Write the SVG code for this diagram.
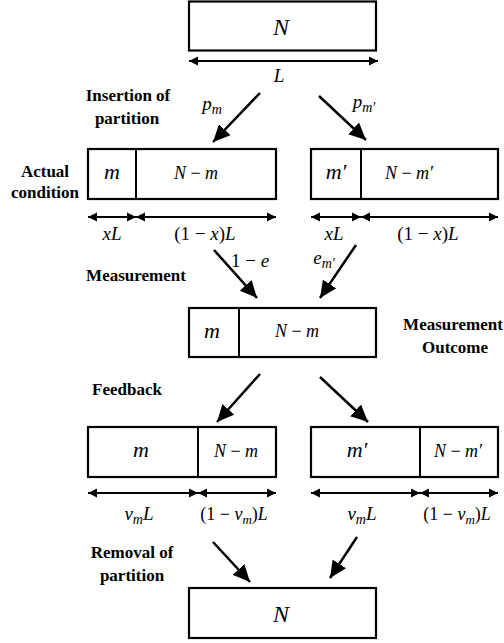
<svg xmlns="http://www.w3.org/2000/svg" width="504" height="643" viewBox="0 0 504 643">
<style>
.box{fill:#fff;stroke:#000;stroke-width:2.2}
.div{stroke:#000;stroke-width:2}
.dim{stroke:#000;stroke-width:2;marker-start:url(#sa);marker-end:url(#sa)}
.arr{stroke:#000;stroke-width:2.5;marker-end:url(#ba)}
text{font-family:'Liberation Serif','Times New Roman','DejaVu Serif',serif}
.lbl{font-weight:bold;font-size:17px;text-anchor:middle}
.mth{font-style:italic;font-size:19px;text-anchor:middle}
.big{font-size:24px}
.cell{font-size:22px}
.sm{font-size:18px}
.up{font-style:normal}
</style>
<defs>
<marker id="sa" markerUnits="userSpaceOnUse" markerWidth="10" markerHeight="10" viewBox="0 0 10 10" refX="9" refY="5" orient="auto-start-reverse"><path d="M0,0.5 L9,5 L0,9.5 z" fill="#000"/></marker>
<marker id="ba" markerUnits="userSpaceOnUse" markerWidth="18" markerHeight="16" viewBox="0 0 18 16" refX="17" refY="8" orient="auto"><path d="M0,0 L17,8 L0,16 z" fill="#000"/></marker>
</defs>

<g id="labels" font-family="Liberation Serif, serif">
<text class="lbl" x="128" y="101">Insertion of</text>
<text class="lbl" x="127" y="124">partition</text>
<text class="lbl" x="45" y="177">Actual</text>
<text class="lbl" x="45" y="198">condition</text>
<text class="lbl" x="136" y="281">Measurement</text>
<text class="lbl" x="453" y="330">Measurement</text>
<text class="lbl" x="455" y="353">Outcome</text>
<text class="lbl" x="127" y="395">Feedback</text>
<text class="lbl" x="132" y="558">Removal of</text>
<text class="lbl" x="132" y="581">partition</text>
</g>

<g id="n-top">
<rect class="box" x="189" y="1.5" width="187" height="49"/>
<text class="mth big" x="281" y="35">N</text>
<line class="dim" x1="189" y1="61" x2="378" y2="61"/>
<text class="mth" x="279" y="82">L</text>
</g>

<g id="actual-m">
<rect class="box" x="88" y="149" width="188" height="50"/>
<line class="div" x1="136" y1="149" x2="136" y2="199"/>
<text class="mth cell" x="112" y="179">m</text>
<text class="mth sm" x="196" y="179">N <tspan class="up">−</tspan> m</text>
<line class="dim" x1="88" y1="217" x2="136" y2="217"/>
<line class="dim" x1="136" y1="217" x2="276" y2="217"/>
<text class="mth" x="112" y="240">xL</text>
<text class="mth" x="205" y="240"><tspan class="up">(1 − </tspan>x<tspan class="up">)</tspan>L</text>
</g>

<g id="actual-mprime">
<rect class="box" x="311" y="149" width="187" height="50"/>
<line class="div" x1="361" y1="149" x2="361" y2="199"/>
<text class="mth cell" x="336" y="179">m′</text>
<text class="mth sm" x="409" y="179">N <tspan class="up">−</tspan> m′</text>
<line class="dim" x1="311" y1="217" x2="361" y2="217"/>
<line class="dim" x1="361" y1="217" x2="498" y2="217"/>
<text class="mth" x="334" y="240">xL</text>
<text class="mth" x="428" y="240"><tspan class="up">(1 − </tspan>x<tspan class="up">)</tspan>L</text>
</g>

<g id="outcome">
<rect class="box" x="189" y="308" width="187" height="49"/>
<line class="div" x1="239" y1="308" x2="239" y2="357"/>
<text class="mth cell" x="212" y="338">m</text>
<text class="mth sm" x="297" y="337">N <tspan class="up">−</tspan> m</text>
</g>

<g id="feedback-m">
<rect class="box" x="88" y="427" width="188" height="50"/>
<line class="div" x1="198" y1="427" x2="198" y2="477"/>
<text class="mth cell" x="141" y="457">m</text>
<text class="mth sm" x="236" y="457">N <tspan class="up">−</tspan> m</text>
<line class="dim" x1="88" y1="493" x2="198" y2="493"/>
<line class="dim" x1="198" y1="493" x2="276" y2="493"/>
<text class="mth" x="139" y="520">v<tspan font-size="14" dy="4">m</tspan><tspan dy="-4">L</tspan></text>
<text class="mth sm" x="234" y="520"><tspan class="up">(1 − </tspan>v<tspan font-size="13" dy="4">m</tspan><tspan class="up" dy="-4">)</tspan>L</text>
</g>

<g id="feedback-mprime">
<rect class="box" x="311" y="427" width="187" height="50"/>
<line class="div" x1="420" y1="427" x2="420" y2="477"/>
<text class="mth cell" x="357" y="457">m′</text>
<text class="mth sm" x="458" y="457">N <tspan class="up">−</tspan> m′</text>
<line class="dim" x1="311" y1="493" x2="420" y2="493"/>
<line class="dim" x1="420" y1="493" x2="498" y2="493"/>
<text class="mth" x="362" y="520">v<tspan font-size="14" dy="4">m</tspan><tspan dy="-4">L</tspan></text>
<text class="mth sm" x="457" y="520"><tspan class="up">(1 − </tspan>v<tspan font-size="13" dy="4">m</tspan><tspan class="up" dy="-4">)</tspan>L</text>
</g>

<g id="n-bottom">
<rect class="box" x="189" y="588" width="187" height="50"/>
<text class="mth big" x="281" y="622">N</text>
</g>

<g id="connectors">
<line class="arr" x1="260" y1="93" x2="213" y2="142"/>
<line class="arr" x1="319" y1="96" x2="366" y2="140"/>
<line class="arr" x1="214" y1="250" x2="257" y2="298"/>
<line class="arr" x1="356" y1="245" x2="320" y2="298"/>
<line class="arr" x1="260" y1="374" x2="217" y2="422"/>
<line class="arr" x1="320" y1="377" x2="368" y2="422"/>
<line class="arr" x1="213" y1="542" x2="250" y2="582"/>
<line class="arr" x1="357" y1="537" x2="330" y2="578"/>
<text class="mth" x="212" y="110">p<tspan font-size="14" dy="4">m</tspan></text>
<text class="mth" x="364" y="108">p<tspan font-size="14" dy="4">m′</tspan></text>
<text class="mth" x="250" y="267"><tspan class="up">1 − </tspan>e</text>
<text class="mth" x="324" y="264">e<tspan font-size="14" dy="4">m′</tspan></text>
</g>
</svg>
